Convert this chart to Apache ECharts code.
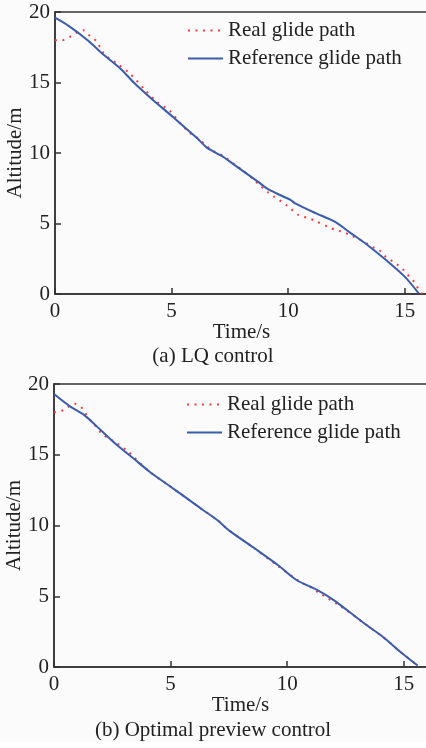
<!DOCTYPE html>
<html>
<head>
<meta charset="utf-8">
<script src="https://cdn.jsdelivr.net/npm/echarts@6/dist/echarts.min.js"></script>
<style>
  html, body { margin: 0; padding: 0; background: #fbfbfb; }
  #chart { width: 426px; height: 748px; }
</style>
</head>
<body>
<div id="chart"></div>
<script>
// (a) LQ control
const lqRefTime = [0, 0.6, 1.4, 2.1, 2.8, 3.4, 4.2, 5.1, 5.4, 6.1, 6.5, 6.8, 7.2, 7.8, 8.7, 9.2, 10.1, 10.3, 11.2, 12.0, 12.7, 13.4, 14.2, 15.0, 15.6];
const lqRefAlt = [19.6, 19.0, 18.0, 16.95, 16.0, 14.96, 13.76, 12.5, 12.05, 11.04, 10.4, 10.1, 9.74, 9.03, 7.97, 7.38, 6.67, 6.43, 5.72, 5.13, 4.3, 3.48, 2.41, 1.23, 0.05];
const lqRealTime = [0, 0.3, 0.65, 1.0, 1.22, 1.5, 1.8, 1.93, 2.15, 2.7, 3.2, 3.85, 4.35, 4.95, 5.4, 5.65, 5.9, 6.2, 6.45, 6.72, 7.2, 7.8, 8.4, 8.85, 9.1, 9.4, 9.65, 9.95, 10.45, 10.8, 11.15, 11.75, 12.05, 12.4, 12.75, 13.3, 13.6, 13.9, 14.15, 14.4, 14.7, 14.95, 15.2, 15.4, 15.6, 15.75];
const lqRealAlt = [18.0, 18.0, 18.25, 18.6, 18.7, 18.3, 17.9, 17.5, 16.95, 16.3, 15.65, 14.5, 13.65, 12.95, 12.05, 11.63, 11.28, 10.97, 10.57, 10.21, 9.8, 9.07, 8.3, 7.61, 7.26, 6.9, 6.62, 6.27, 5.6, 5.41, 5.2, 4.73, 4.54, 4.37, 4.11, 3.66, 3.35, 3.12, 2.7, 2.41, 2.06, 1.7, 1.23, 0.87, 0.33, 0.0];

// (b) Optimal preview control
const opRefTime = [0, 0.7, 1.3, 2.0, 2.7, 3.4, 4.1, 4.9, 5.6, 6.3, 7.0, 7.55, 8.6, 9.6, 10.4, 11.3, 12.0, 13.3, 14.1, 14.85, 15.6];
const opRefAlt = [19.29, 18.4, 17.8, 16.75, 15.69, 14.75, 13.8, 12.86, 12.04, 11.2, 10.39, 9.6, 8.39, 7.21, 6.15, 5.44, 4.73, 3.09, 2.14, 1.08, 0.1];
const opRealTime = [0, 0.33, 0.9, 1.2, 1.4, 1.62, 1.83, 2.05, 2.34, 2.55, 3.15, 3.42, 4.1, 4.9, 5.6, 6.3, 7.0, 7.55, 8.6, 9.64, 10.2, 10.5, 10.8, 11.06, 11.35, 11.64, 12.2, 12.5, 13.3, 14.1, 14.85, 15.6];
const opRealAlt = [18.0, 18.1, 18.6, 18.3, 17.8, 17.3, 16.94, 16.5, 16.16, 15.97, 15.27, 14.85, 13.8, 12.86, 12.04, 11.2, 10.39, 9.6, 8.39, 7.09, 6.43, 6.08, 5.8, 5.6, 5.25, 4.97, 4.38, 4.07, 3.09, 2.14, 1.08, 0.1];

const timeTicks = { min: 0, max: 16, interval: 5 };
const altTicks = { min: 0, max: 20, interval: 5 };
const seriesNames = ['Real glide path', 'Reference glide path'];
const captions = ['(a) LQ control', '(b) Optimal preview control'];

const FONT = 'Liberation Serif';
const INK = '#222';

const pairs = (t, h) => t.map((v, i) => [v, h[i]]);

function xAxisFor(idx) {
  return {
    gridIndex: idx, type: 'value',
    min: timeTicks.min, max: timeTicks.max, interval: timeTicks.interval,
    name: 'Time/s', nameLocation: 'middle', nameGap: 28, nameMoveOverlap: false,
    nameTextStyle: { fontFamily: FONT, fontSize: 21, color: INK },
    axisLine: { lineStyle: { color: '#333', width: 1.5 } },
    axisTick: { show: true, inside: true, length: 6, lineStyle: { color: '#333', width: 1.5 } },
    axisLabel: { fontFamily: FONT, fontSize: 21, color: INK, margin: 7, showMaxLabel: false },
    splitLine: { show: false }
  };
}
function yAxisFor(idx) {
  return {
    gridIndex: idx, type: 'value',
    min: altTicks.min, max: altTicks.max, interval: altTicks.interval,
    name: 'Altitude/m', nameLocation: 'middle', nameGap: 29, nameMoveOverlap: false,
    nameTextStyle: { fontFamily: FONT, fontSize: 21, color: INK },
    axisLine: { show: true, lineStyle: { color: '#333', width: 1.5 } },
    axisTick: { show: true, inside: true, length: 6, lineStyle: { color: '#333', width: 1.5 } },
    axisLabel: { fontFamily: FONT, fontSize: 21, color: INK, margin: 5 },
    splitLine: { show: false }
  };
}
function realSeries(idx, data) {
  return {
    name: seriesNames[0], type: 'line', xAxisIndex: idx, yAxisIndex: idx,
    data: data, symbol: 'none', smooth: 0.3, z: 2,
    lineStyle: { color: '#ff3b3b', width: 2, type: [2, 5.5] },
    itemStyle: { color: '#ff3b3b' }
  };
}
function refSeries(idx, data) {
  return {
    name: seriesNames[1], type: 'line', xAxisIndex: idx, yAxisIndex: idx,
    data: data, symbol: 'none', smooth: 0.3, z: 3,
    lineStyle: { color: '#3b5cad', width: 2 },
    itemStyle: { color: '#3b5cad' }
  };
}
function legendFor(left, top) {
  return {
    data: seriesNames, orient: 'vertical', left: left, top: top,
    padding: 0, itemWidth: 35, itemHeight: 14, itemGap: 7,
    itemStyle: { opacity: 0 },
    textStyle: { fontFamily: FONT, fontSize: 21, color: INK, lineHeight: 20 }
  };
}

const chart = echarts.init(document.getElementById('chart'), null, { renderer: 'canvas' });
chart.setOption({
  backgroundColor: '#fbfbfb',
  animation: false,
  grid: [
    { left: 55, top: 12, width: 373, height: 282, outerBoundsMode: 'none', containLabel: false, show: true, borderColor: '#333', borderWidth: 1.5, backgroundColor: 'transparent' },
    { left: 54, top: 384, width: 373, height: 283, outerBoundsMode: 'none', containLabel: false, show: true, borderColor: '#333', borderWidth: 1.5, backgroundColor: 'transparent' }
  ],
  legend: [legendFor(187, 20), legendFor(186, 394)],
  xAxis: [xAxisFor(0), xAxisFor(1)],
  yAxis: [yAxisFor(0), yAxisFor(1)],
  series: [
    realSeries(0, pairs(lqRealTime, lqRealAlt)),
    refSeries(0, pairs(lqRefTime, lqRefAlt)),
    realSeries(1, pairs(opRealTime, opRealAlt)),
    refSeries(1, pairs(opRefTime, opRefAlt))
  ],
  graphic: [
    { type: 'text', left: 'center', top: 346, style: { text: captions[0], font: '21px "Liberation Serif"', fill: INK }, x: 24 },
    { type: 'text', left: 'center', top: 720, style: { text: captions[1], font: '21px "Liberation Serif"', fill: INK }, x: 24 },
    { type: 'rect', left: 0, top: 742, shape: { width: 426, height: 6 }, style: { fill: '#fff' }, z: -1 }
  ]
});
</script>
</body>
</html>
